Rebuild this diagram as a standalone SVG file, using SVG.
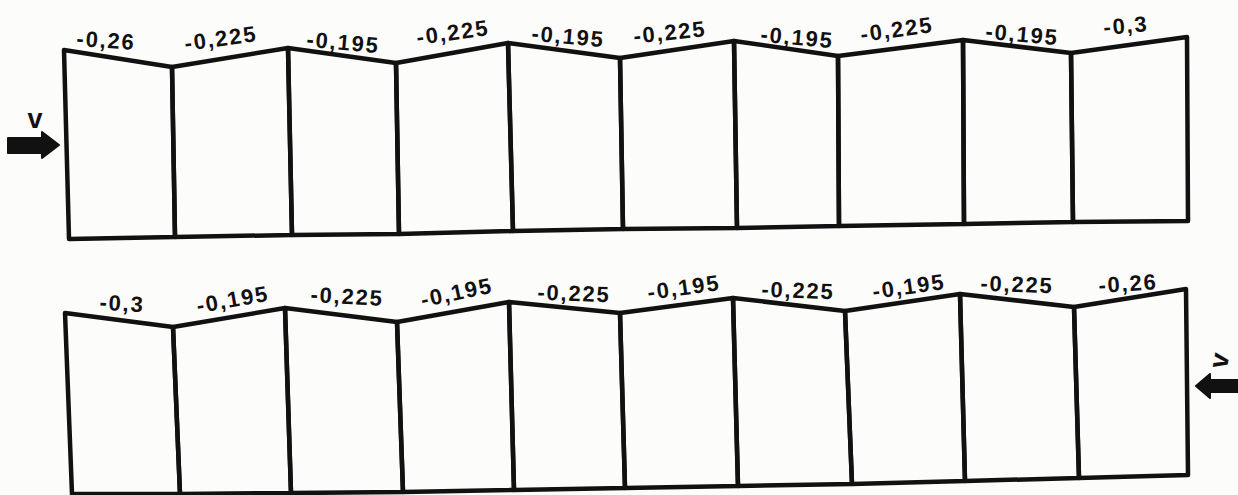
<svg xmlns="http://www.w3.org/2000/svg" width="1238" height="495" viewBox="0 0 1238 495">
<style>
.bg{fill:#fcfcfb}
.p{fill:none;stroke:#111;stroke-width:4.5;stroke-linejoin:round;stroke-linecap:round}
.t{font-family:"Liberation Sans",Arial,sans-serif;font-weight:bold;font-size:22px;fill:#111;text-anchor:middle;letter-spacing:1.8px}
.v{font-family:"Liberation Sans",Arial,sans-serif;font-weight:bold;font-size:27px;fill:#111;text-anchor:middle}
.a{fill:#111;stroke:#111;stroke-width:2;stroke-linejoin:round}
</style>
<rect class="bg" x="0" y="0" width="1238" height="495"/>
<g id="row-top">
<g id="t1"><polygon class="p" points="64,50 172,67 175,237 69,239"/><text class="t" x="106" y="48" transform="rotate(4 106 42)">-0,26</text></g>
<g id="t2"><polygon class="p" points="172,67 288,48 292,235 175,237"/><text class="t" x="221" y="46" transform="rotate(-8 221 40)">-0,225</text></g>
<g id="t3"><polygon class="p" points="288,48 396,63 399,234 292,235"/><text class="t" x="343" y="50" transform="rotate(5 343 44)">-0,195</text></g>
<g id="t4"><polygon class="p" points="396,63 508,43 513,231 399,234"/><text class="t" x="453" y="40" transform="rotate(-8 453 34)">-0,225</text></g>
<g id="t5"><polygon class="p" points="508,43 620,58 623,229 513,231"/><text class="t" x="568" y="44" transform="rotate(5 568 38)">-0,195</text></g>
<g id="t6"><polygon class="p" points="620,58 734,41 737,228 623,229"/><text class="t" x="670" y="40" transform="rotate(-6 670 34)">-0,225</text></g>
<g id="t7"><polygon class="p" points="734,41 838,56 839,226 737,228"/><text class="t" x="797" y="45" transform="rotate(5 797 39)">-0,195</text></g>
<g id="t8"><polygon class="p" points="838,56 963,40 964,224 839,226"/><text class="t" x="897" y="37" transform="rotate(-8 897 31)">-0,225</text></g>
<g id="t9"><polygon class="p" points="963,40 1071,53 1073,222 964,224"/><text class="t" x="1022" y="42" transform="rotate(5 1022 36)">-0,195</text></g>
<g id="t10"><polygon class="p" points="1071,53 1187,37 1188,221 1073,222"/><text class="t" x="1126" y="33" transform="rotate(-5 1126 27)">-0,3</text></g>
</g>
<g id="row-bottom">
<g id="b1"><polygon class="p" points="65,313 173,327 180,494 72,494"/><text class="t" x="122" y="311" transform="rotate(3 122 305)">-0,3</text></g>
<g id="b2"><polygon class="p" points="173,327 285,308 291,493 180,494"/><text class="t" x="233" y="307" transform="rotate(-10 233 301)">-0,195</text></g>
<g id="b3"><polygon class="p" points="285,308 397,322 403,492 291,493"/><text class="t" x="347" y="304" transform="rotate(3 347 298)">-0,225</text></g>
<g id="b4"><polygon class="p" points="397,322 509,302 514,490 403,492"/><text class="t" x="457" y="300" transform="rotate(-12 457 294)">-0,195</text></g>
<g id="b5"><polygon class="p" points="509,302 620,313 625,488 514,490"/><text class="t" x="574" y="301" transform="rotate(2 574 295)">-0,225</text></g>
<g id="b6"><polygon class="p" points="620,313 733,298 738,486 625,488"/><text class="t" x="684" y="295" transform="rotate(-8 684 289)">-0,195</text></g>
<g id="b7"><polygon class="p" points="733,298 845,311 852,484 738,486"/><text class="t" x="798" y="298" transform="rotate(2 798 292)">-0,225</text></g>
<g id="b8"><polygon class="p" points="845,311 960,294 965,481 852,484"/><text class="t" x="909" y="294" transform="rotate(-8 909 288)">-0,195</text></g>
<g id="b9"><polygon class="p" points="960,294 1074,307 1079,478 965,481"/><text class="t" x="1017" y="292" transform="rotate(2 1017 286)">-0,225</text></g>
<g id="b10"><polygon class="p" points="1074,307 1186,289 1188,475 1079,478"/><text class="t" x="1128" y="291" transform="rotate(-4 1128 285)">-0,26</text></g>
</g>
<g id="wind-left">
<path class="a" d="M8,138 L42,138 L42,132 L59,145 L42,158 L42,153 L8,153 Z"/>
<text class="v" x="35" y="128">v</text>
</g>
<g id="wind-right">
<path class="a" d="M1238,380 L1210,380 L1210,374 L1196,386 L1210,398 L1210,392 L1238,392 Z"/>
<text class="v" x="1228" y="362" font-size="24" transform="rotate(-80 1228 362)">v</text>
</g>
</svg>
